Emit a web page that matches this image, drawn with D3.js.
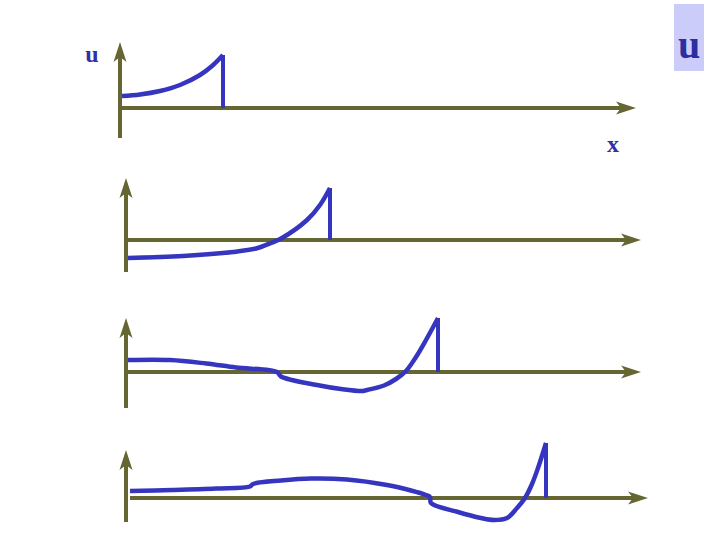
<!DOCTYPE html>
<html>
<head>
<meta charset="utf-8">
<script src="https://cdn.jsdelivr.net/npm/d3@7"></script>
<style>
  body { margin: 0; background: #fff; }
  svg { display: block; }
</style>
</head>
<body>
<script>
// u(x) profiles at four successive times (x in axis units, u in axis units)
const wave1 = [[0.02, 1.2], [0.2, 1.35], [0.4, 1.7], [0.6, 2.3], [0.8, 3.3], [0.92, 4.2], [1.03, 5.3]]
const wave2 = [[0.02, -1.8], [0.57, -1.6], [1.07, -1.2], [1.3, -0.85], [1.45, -0.3], [1.56, 0.2], [1.81, 2.0],
  [1.94, 3.5], [2.04, 5.2]]
const wave3 = [[0.02, 1.2], [0.44, 1.2], [0.8, 0.85], [1.1, 0.45], [1.51, 0], [1.55, -0.45], [1.91, -1.3],
  [2.15, -1.7], [2.37, -1.9], [2.41, -1.8], [2.58, -1.35], [2.70, -0.7], [2.80, 0.1], [2.90, 1.5], [3.0, 3.2],
  [3.12, 5.4]]
const wave4 = [[0.04, 0.7], [0.46, 0.8], [0.9, 0.95], [1.24, 1.15], [1.27, 1.4], [1.55, 1.75], [1.85, 1.95],
  [2.21, 1.85], [2.61, 1.3], [2.85, 0.75], [3.0, 0.3], [3.04, 0.1], [3.05, -0.5], [3.32, -1.4], [3.55, -2.0],
  [3.68, -2.2], [3.81, -2.0], [3.91, -1.0], [3.99, 0], [4.06, 1.4], [4.12, 3.0], [4.20, 5.5]]
const waves = [wave1, wave2, wave3, wave4]

// axis extents per panel: [xStart, xEnd], [uMin, uMax]
const xExtents = [[0, 5.16], [0, 5.15], [0, 5.15], [0.04, 5.22]]
const uExtents = [[-3, 6.6], [-3.2, 6.2], [-3.6, 5.4], [-2.4, 4.8]]

var w = 720
var h = 540
const origins = [[120, 108], [126, 240], [126, 372], [126, 498]]
const axisColor = '#666633'
const curveColor = '#3535bf'

var svg = d3.select('body')
  .append('svg')
  .attr('width', w)
  .attr('height', h)

svg.append('defs')
  .append('marker')
  .attr('id', 'arrow')
  .attr('markerUnits', 'userSpaceOnUse')
  .attr('markerWidth', 22)
  .attr('markerHeight', 14)
  .attr('viewBox', '0 -7 22 14')
  .attr('refX', 8)
  .attr('refY', 0)
  .attr('orient', 'auto')
  .append('path')
  .attr('d', 'M0,-6.5L20,0L0,6.5L5,0Z')
  .attr('fill', axisColor)

origins.forEach((o, i) => {
  const xScale = d3.scaleLinear().domain([0, 1]).range([o[0], o[0] + 100])
  const yScale = d3.scaleLinear().domain([0, 1]).range([o[1], o[1] - 10])
  const g = svg.append('g')

  // x axis
  g.append('line')
    .attr('x1', xScale(xExtents[i][0]))
    .attr('x2', xScale(xExtents[i][1]) - 12)
    .attr('y1', yScale(0))
    .attr('y2', yScale(0))
    .attr('stroke', axisColor)
    .attr('stroke-width', 4)
    .attr('marker-end', 'url(#arrow)')

  // u axis
  g.append('line')
    .attr('x1', xScale(0))
    .attr('x2', xScale(0))
    .attr('y1', yScale(uExtents[i][0]))
    .attr('y2', yScale(uExtents[i][1]) + 12)
    .attr('stroke', axisColor)
    .attr('stroke-width', 4)
    .attr('marker-end', 'url(#arrow)')

  const data = waves[i]
  const line = d3.line()
    .x(d => xScale(d[0]))
    .y(d => yScale(d[1]))
    .curve(d3.curveCatmullRom.alpha(0.5))

  g.append('path')
    .attr('d', line(data))
    .attr('fill', 'none')
    .attr('stroke', curveColor)
    .attr('stroke-width', 4.5)
    .attr('stroke-linejoin', 'round')

  // shock: vertical drop back to the axis
  const last = data[data.length - 1]
  g.append('line')
    .attr('x1', xScale(last[0]))
    .attr('x2', xScale(last[0]))
    .attr('y1', yScale(last[1]))
    .attr('y2', yScale(0))
    .attr('stroke', curveColor)
    .attr('stroke-width', 4)
})

svg.append('text')
  .attr('x', 92)
  .attr('y', 62)
  .attr('text-anchor', 'middle')
  .style('font-family', 'Liberation Serif, serif')
  .style('font-weight', 'bold')
  .style('font-size', '24px')
  .style('fill', '#3030a8')
  .text('u')

svg.append('text')
  .attr('x', 613)
  .attr('y', 152)
  .attr('text-anchor', 'middle')
  .style('font-family', 'Liberation Serif, serif')
  .style('font-weight', 'bold')
  .style('font-size', '24px')
  .style('fill', '#3030a8')
  .text('x')

svg.append('rect')
  .attr('x', 674)
  .attr('y', 4)
  .attr('width', 30)
  .attr('height', 67)
  .attr('fill', '#ccccfa')

svg.append('text')
  .attr('x', 689)
  .attr('y', 58)
  .attr('text-anchor', 'middle')
  .style('font-family', 'Liberation Serif, serif')
  .style('font-weight', 'bold')
  .style('font-size', '40px')
  .style('fill', '#2d2da0')
  .text('u')
</script>
</body>
</html>
